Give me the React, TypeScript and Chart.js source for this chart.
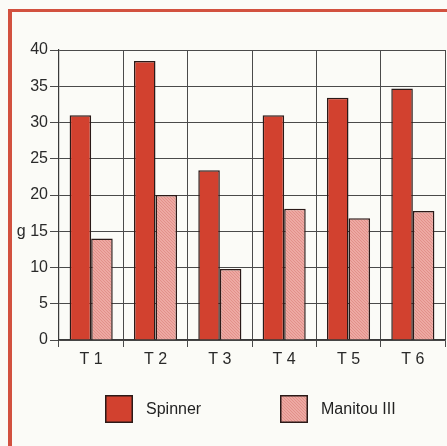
import React, { useEffect, useRef } from "react";
import { Chart, registerables } from "chart.js";

Chart.register(...registerables);

const categories = ["T 1", "T 2", "T 3", "T 4", "T 5", "T 6"];
const spinnerValues = [31.0, 38.5, 23.4, 31.0, 33.4, 34.7];
const manitouValues = [14.0, 20.0, 9.8, 18.1, 16.8, 17.8];
const seriesNames = ["Spinner", "Manitou III"];
const yUnitLabel = "g";
const yUnitTick = 15;

function makeHatch(): CanvasPattern | string {
  const c = document.createElement("canvas");
  c.width = 3;
  c.height = 3;
  const x = c.getContext("2d");
  if (!x) return "#e79b95";
  x.fillStyle = "#eda9a3";
  x.fillRect(0, 0, 3, 3);
  x.strokeStyle = "#dc857e";
  x.lineWidth = 0.7;
  x.beginPath();
  x.moveTo(-1, -1);
  x.lineTo(4, 4);
  x.moveTo(-1, 2);
  x.lineTo(1, 4);
  x.moveTo(2, -1);
  x.lineTo(4, 1);
  x.stroke();
  const p = x.createPattern(c, "repeat");
  return p || "#e79b95";
}

const legendPlugin = {
  id: "customLegend",
  afterDraw(chart: any) {
    const { ctx, chartArea } = chart;
    const ds = chart.data.datasets;
    const box = 28;
    const top = chartArea.bottom + 55;
    let left = chartArea.left + 46;
    ctx.save();
    ds.forEach((d: any) => {
      ctx.fillStyle = d.backgroundColor;
      ctx.fillRect(left, top, box, box);
      ctx.lineWidth = 1.5;
      ctx.strokeStyle = "#2b1a18";
      ctx.strokeRect(left + 0.75, top + 0.75, box - 1.5, box - 1.5);
      ctx.fillStyle = "#222";
      ctx.font = "16px 'Liberation Sans', Arial, sans-serif";
      ctx.textBaseline = "middle";
      ctx.textAlign = "left";
      ctx.fillText(d.label, left + box + 13, top + box / 2 + 1);
      left += 175;
    });
    ctx.restore();
  },
};

export default function App() {
  const ref = useRef<HTMLCanvasElement | null>(null);
  useEffect(() => {
    if (!ref.current) return;
    const hatch = makeHatch();
    const font = { family: "'Liberation Sans', Arial, sans-serif", size: 16 };
    const chart = new Chart(ref.current, {
      type: "bar",
      data: {
        labels: categories,
        datasets: [
          {
            label: seriesNames[0],
            data: spinnerValues,
            backgroundColor: "#d2412f",
            borderColor: "#2b1a18",
            borderWidth: 1.5,
            borderSkipped: "bottom",
          },
          {
            label: seriesNames[1],
            data: manitouValues,
            backgroundColor: hatch as any,
            borderColor: "#2b1a18",
            borderWidth: 1.5,
            borderSkipped: "bottom",
          },
        ],
      },
      options: {
        animation: false,
        responsive: false,
        maintainAspectRatio: false,
        layout: { padding: { left: 0, right: 2, top: 38, bottom: 76 } },
        datasets: { bar: { categoryPercentage: 0.67, barPercentage: 1.0 } },
        plugins: {
          legend: { display: false },
          tooltip: { enabled: false },
        },
        scales: {
          x: {
            grid: { color: "#4a4a4a", lineWidth: 1, tickLength: 7, offset: true },
            border: { color: "#3a3a3a", width: 1.2 },
            ticks: { color: "#2a2a2a", font, padding: 3 },
            afterFit: (s: any) => {
              s.height = 30;
            },
          },
          y: {
            min: 0,
            max: 40,
            grid: { color: "#4a4a4a", lineWidth: 1, tickLength: 9 },
            border: { color: "#3a3a3a", width: 1.2 },
            ticks: {
              stepSize: 5,
              color: "#2a2a2a",
              font,
              padding: 2,
              callback: (v: any) => (v === yUnitTick ? `${yUnitLabel} ${v}` : `${v}`),
            },
            afterFit: (s: any) => {
              s.width = 47;
            },
          },
        },
      },
      plugins: [legendPlugin],
    });
    return () => chart.destroy();
  }, []);

  return (
    <div
      style={{
        position: "absolute",
        left: 0,
        top: 0,
        width: 447,
        height: 446,
        background: "#fbfbf7",
        overflow: "hidden",
      }}
    >
      <div
        style={{
          position: "absolute",
          left: 8,
          top: 9,
          width: 447,
          height: 446,
          borderTop: "3px solid #d2513f",
          borderLeft: "4px solid #d2513f",
        }}
      />
      <canvas
        ref={ref}
        width={435}
        height={434}
        style={{ position: "absolute", left: 12, top: 12, width: 435, height: 434 }}
      />
    </div>
  );
}
